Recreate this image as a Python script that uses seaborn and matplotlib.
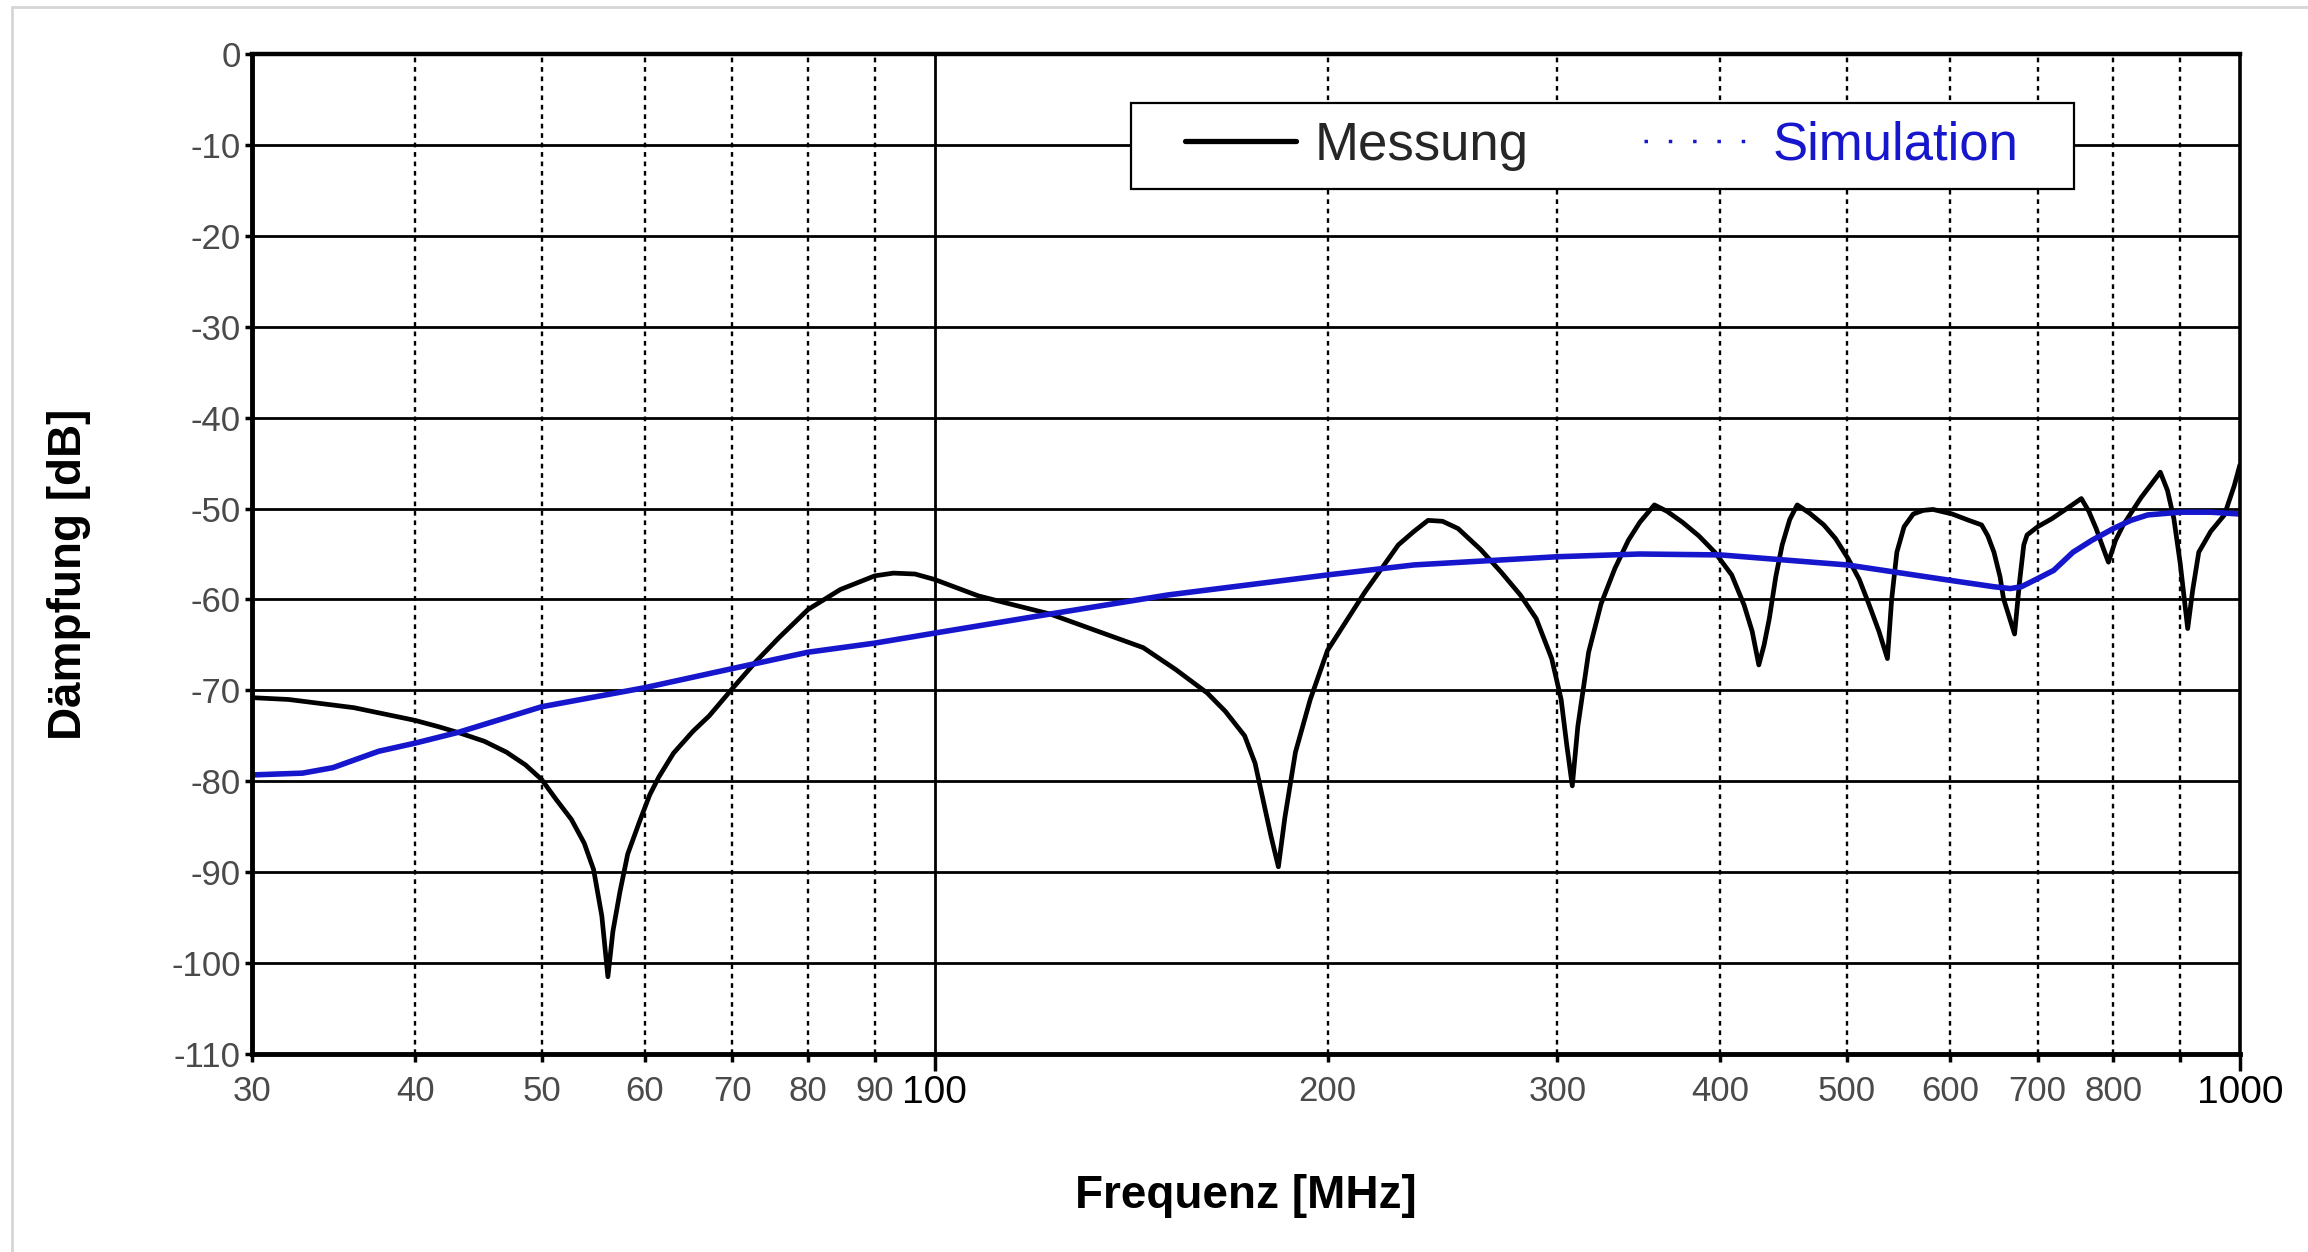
import matplotlib
matplotlib.use("Agg")
import matplotlib.pyplot as plt
import seaborn as sns
import pandas as pd
from matplotlib.lines import Line2D
from matplotlib.path import Path
from matplotlib.ticker import FixedLocator, FixedFormatter

# Messung (black curve)
messung_freq = [30, 32, 35.9, 38.5, 40, 41.7, 43.3, 45.2, 47, 48.6, 50, 51.3, 52.7, 53.9, 54.8,
                55.6, 56.2, 56.7, 57.4, 58.2, 59.4, 60.5, 61.5, 63.1, 65.3, 67.2, 70, 73, 76,
                80, 84.7, 90, 93, 96.6, 100, 108, 115, 122.6, 134.6, 144.5, 153, 161.8, 167,
                172.8, 176, 178.5, 181, 183.4, 185.5, 189, 194, 200, 213.6, 226.6, 233, 238.8,
                245, 251.8, 262, 271.7, 281, 289, 297, 302, 305, 308, 311, 317, 324, 332, 340,
                347, 356, 364, 374, 385, 396, 408, 417, 423, 428, 432, 436, 441, 446, 452, 458,
                468, 480, 490, 501, 511, 520, 529, 537, 541, 546, 553, 562, 572, 582, 602, 620,
                634, 641, 648, 655, 659, 666, 672, 678, 683, 687, 700, 718, 737, 756, 766, 776,
                785, 793, 803, 814, 840, 869, 880, 890, 900, 912, 920, 930, 950, 973, 990, 1000]
messung_db = [-70.8, -71.0, -71.9, -72.8, -73.3, -74.0, -74.7, -75.6, -76.8, -78.2, -79.8, -82.0,
              -84.2, -86.8, -89.7, -94.8, -101.5, -96.5, -92.2, -88.0, -84.5, -81.5, -79.5,
              -76.9, -74.5, -72.8, -69.8, -66.8, -64.2, -61.1, -58.9, -57.4, -57.1, -57.2,
              -57.8, -59.6, -60.6, -61.6, -63.7, -65.3, -67.7, -70.3, -72.3, -75.0, -78.0,
              -82.0, -86.0, -89.4, -84.0, -76.8, -71.0, -65.6, -59.2, -54.0, -52.5, -51.3,
              -51.4, -52.2, -54.5, -57.0, -59.5, -62.1, -66.5, -71.0, -76.0, -80.5, -74.0,
              -65.8, -60.5, -56.6, -53.5, -51.5, -49.6, -50.3, -51.5, -53.0, -54.8, -57.3,
              -60.6, -63.5, -67.2, -65.0, -62.1, -57.5, -54.0, -51.2, -49.6, -50.5, -51.8,
              -53.3, -55.5, -57.8, -60.6, -63.5, -66.5, -60.0, -54.8, -52.0, -50.6, -50.2,
              -50.1, -50.6, -51.3, -51.8, -53.0, -54.8, -57.5, -59.9, -62.0, -63.8, -58.0,
              -54.0, -52.9, -52.0, -51.1, -50.0, -48.9, -50.3, -52.2, -54.2, -55.9, -53.5,
              -51.8, -48.8, -46.0, -48.0, -51.1, -56.0, -63.2, -59.0, -54.8, -52.5, -50.7,
              -47.5, -45.2]

# Simulation (blue curve)
sim_freq = [30, 32.8, 34.6, 37.5, 40, 43.2, 50, 60, 70, 80, 90, 100, 122.6, 151, 176, 200, 233,
            300, 347, 400, 500, 600, 648, 667, 680, 700, 720, 745, 770, 800, 825, 850, 900, 950,
            1000]
sim_db = [-79.3, -79.1, -78.5, -76.7, -75.8, -74.6, -71.8, -69.7, -67.6, -65.8, -64.8, -63.7,
          -61.6, -59.5, -58.3, -57.3, -56.2, -55.3, -55.0, -55.1, -56.2, -57.9, -58.6, -58.8,
          -58.6, -57.7, -56.8, -54.8, -53.5, -52.2, -51.3, -50.7, -50.4, -50.4, -50.6]

minor_ticks = [30, 40, 50, 60, 70, 80, 90, 200, 300, 400, 500, 600, 700, 800, 900]
minor_labels = ['30', '40', '50', '60', '70', '80', '90', '200', '300', '400', '500', '600',
                '700', '800', '']
major_ticks = [100, 1000]
y_ticks = list(range(-110, 1, 10))

BLUE = "#1616cc"
GRAY = "#4a4a4a"

sns.set_theme(style="white")
plt.rcParams['font.family'] = ['Liberation Sans', 'DejaVu Sans']

fig, ax = plt.subplots(figsize=(23.08, 12.52), dpi=100)
fig.subplots_adjust(left=0.1092, right=0.9705, top=0.9569, bottom=0.1581)

df_m = pd.DataFrame({'freq': messung_freq, 'db': messung_db})
df_s = pd.DataFrame({'freq': sim_freq, 'db': sim_db})
sns.lineplot(data=df_m, x='freq', y='db', color='black', lw=3.4, ax=ax, estimator=None)
sns.lineplot(data=df_s, x='freq', y='db', color=BLUE, lw=4, ax=ax, estimator=None)

ax.set_xscale('log')
ax.set_xlim(30, 1000)
ax.set_ylim(-110, 0)

ax.xaxis.set_major_locator(FixedLocator(major_ticks))
ax.xaxis.set_major_formatter(FixedFormatter([str(t) for t in major_ticks]))
ax.xaxis.set_minor_locator(FixedLocator(minor_ticks))
ax.xaxis.set_minor_formatter(FixedFormatter(minor_labels))
ax.set_yticks(y_ticks)
ax.set_yticklabels([str(t) for t in y_ticks])

ax.set_axisbelow(True)
ax.grid(True, which='major', axis='y', color='black', lw=2.0)
ax.grid(True, which='major', axis='x', color='black', lw=2.0)
ax.grid(True, which='minor', axis='x', color='black', lw=1.7, ls=(0, (2, 2)))

for side in ['left', 'bottom']:
    ax.spines[side].set_color('black')
    ax.spines[side].set_linewidth(3.5)
ax.spines['top'].set_color('black')
ax.spines['top'].set_linewidth(3.2)
ax.spines['right'].set_color('black')
ax.spines['right'].set_linewidth(2.6)

ax.tick_params(axis='y', which='major', direction='out', length=5, width=2.5, color='black',
               labelsize=25, labelcolor=GRAY, pad=3, left=True)
ax.tick_params(axis='x', which='minor', direction='out', length=6, width=2.5, color='black',
               labelsize=25, labelcolor=GRAY, pad=9, bottom=True)
ax.tick_params(axis='x', which='major', direction='out', length=12, width=2.5, color='black',
               labelsize=28, labelcolor='black', pad=3, bottom=True)

ax.set_xlabel('Frequenz [MHz]', fontsize=33, fontweight='bold', color='black')
ax.set_ylabel('Dämpfung [dB]', fontsize=33, fontweight='bold', color='black')
ax.xaxis.set_label_coords(0.5, -0.12)
ax.yaxis.set_label_coords(-0.081, 0.48)


def wide_box(x0, y0, width, height, mutation_size):
    # square frame with extra room left and right
    px = 0.7 * mutation_size
    x0 -= px
    width += 2 * px
    return Path([(x0, y0), (x0 + width, y0), (x0 + width, y0 + height),
                 (x0, y0 + height), (x0, y0)], closed=True)


handles = [Line2D([], [], color='black', lw=3.8),
           Line2D([], [], color=BLUE, lw=2.5, ls=(0, (1, 6)))]
leg = ax.legend(handles, ['Messung', 'Simulation'], ncol=2, loc='upper left',
                bbox_to_anchor=(0.4605, 0.951), fontsize=38, frameon=True, fancybox=False,
                edgecolor='black', framealpha=1, handlelength=2.1, handletextpad=0.34,
                columnspacing=2.2, borderpad=0.34, borderaxespad=0)
leg.get_frame().set_linewidth(1.6)
leg.get_frame().set_boxstyle(wide_box)
leg.get_texts()[1].set_color(BLUE)

# light frame of the original screenshot (left and top edges)
fig.add_artist(Line2D([12 / 2308, 12 / 2308], [0, 1 - 7 / 1252], color='#d6d6d6', lw=2))
fig.add_artist(Line2D([12 / 2308, 1], [1 - 7 / 1252, 1 - 7 / 1252], color='#d6d6d6', lw=2))

fig.savefig('out.png', dpi=100)
